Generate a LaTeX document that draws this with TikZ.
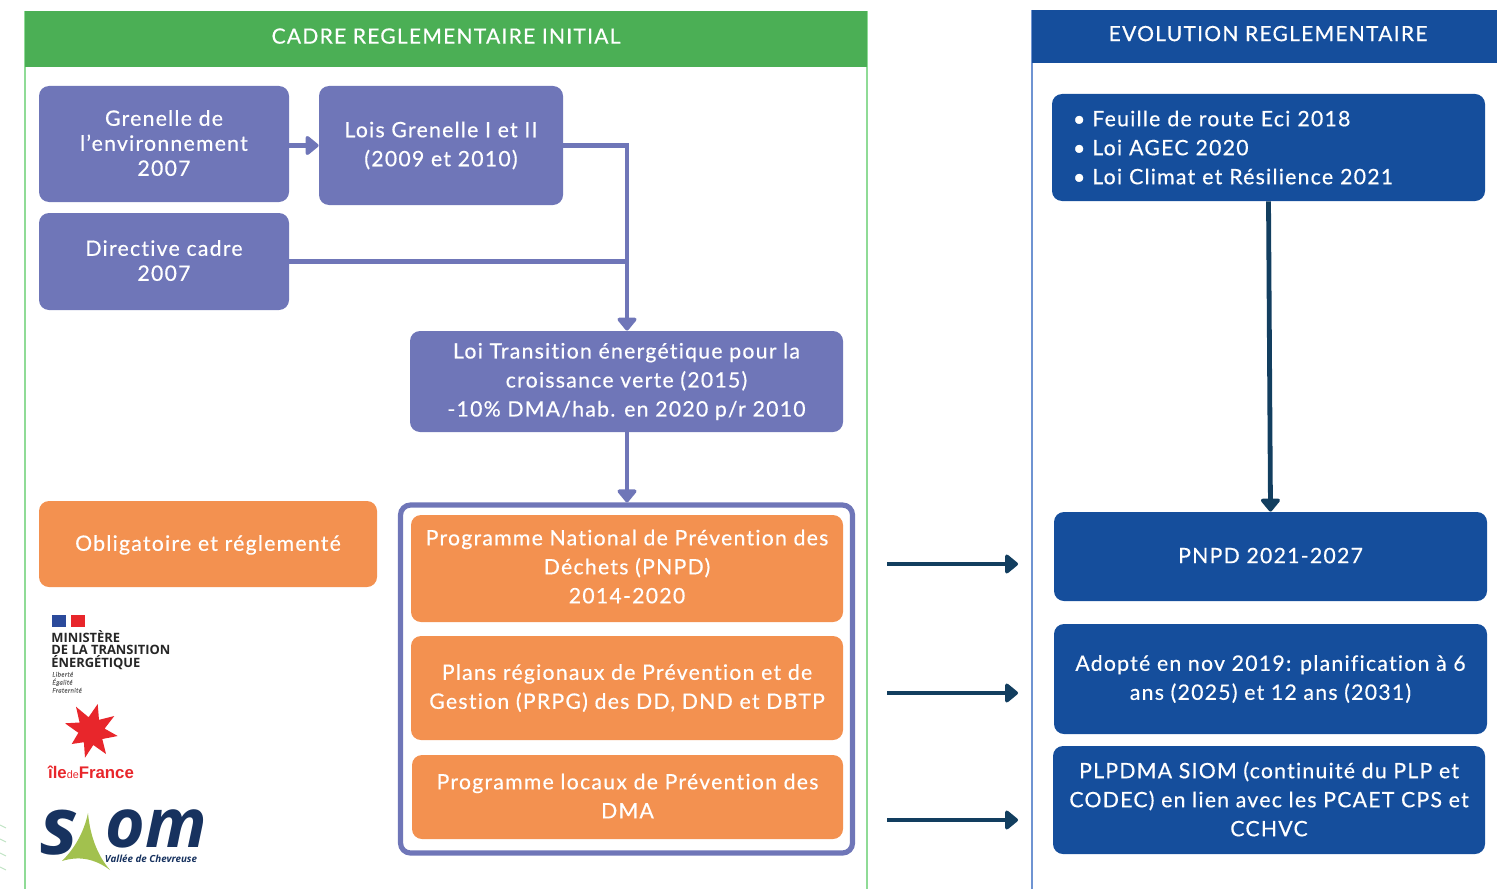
\documentclass[tikz,border=0pt]{standalone}
\usepackage{fontspec}
\setmainfont[LetterSpace=6, FakeBold=0.5, Ligatures=NoCommon]{Lato}
\newfontfamily\logofont{Open Sans}
\newfontfamily\arialfont{Liberation Sans}
\usetikzlibrary{arrows.meta}
\definecolor{greenhead}{HTML}{4BAF55}
\definecolor{greenline}{HTML}{8FDB96}
\definecolor{bluehead}{HTML}{154E9C}
\definecolor{blueline}{HTML}{6F94D2}
\definecolor{purplebox}{HTML}{6F76B8}
\definecolor{orangebox}{HTML}{F39150}
\definecolor{navyarrow}{HTML}{123E5F}
\definecolor{siomnavy}{HTML}{17325F}
\definecolor{siomgreen}{HTML}{A2C14E}
\definecolor{idfred}{HTML}{E8262B}
\definecolor{flagblue}{HTML}{2B4A9B}
\tikzstyle{basebox} = [rectangle, rounded corners=5pt, text=white, align=center, inner sep=0pt,
    font=\fontsize{10.6}{14.5}\selectfont]
\tikzstyle{violetbox} = [basebox, fill=purplebox]
\tikzstyle{peachbox} = [basebox, fill=orangebox]
\tikzstyle{royalbox} = [basebox, fill=bluehead]
\tikzstyle{headtitle} = [rectangle, text=white, inner sep=0pt, text depth=3pt, font=\fontsize{10.5}{12}\selectfont]
\tikzstyle{violetline} = [draw=purplebox, line width=2.2pt]
\tikzstyle{violetarrow} = [violetline, -{Triangle[round, length=7pt, width=11pt]}]
\tikzstyle{navyline} = [draw=navyarrow, line width=2.4pt, -{Triangle[round, length=7pt, width=11pt]}]

\begin{document}
\begin{tikzpicture}[x=0.5pt, y=-0.5pt]
    \useasboundingbox (0,0) rectangle (1497,888);

    \draw [greenline, line width=1pt] (25,11) -- (25,900) (867,11) -- (867,900);
    \draw [blueline, line width=1pt] (1032,10) -- (1032,900);
    \node [headtitle, fill=greenhead, minimum width=421pt, minimum height=28pt] (cadre) at (446,39)
        {CADRE REGLEMENTAIRE INITIAL};
    \node [headtitle, fill=bluehead, minimum width=236pt, minimum height=26.5pt] (evolution) at (1268,36.5)
        {EVOLUTION REGLEMENTAIRE};

    \node [violetbox, minimum width=125pt, minimum height=58pt, text depth=1pt, font=\fontsize{10.6}{12.5}\selectfont] (grenelle) at (164,144)
        {Grenelle de\\ l’environnement\\ 2007};
    \node [violetbox, minimum width=122pt, minimum height=59.5pt] (lois) at (441,145.5)
        {Lois Grenelle I et II\\ (2009 et 2010)};
    \node [violetbox, minimum width=125pt, minimum height=48.5pt, text depth=1pt, font=\fontsize{10.6}{12.5}\selectfont] (directive) at (164,261.5)
        {Directive cadre\\ 2007};
    \node [violetbox, minimum width=216.5pt, minimum height=50.5pt] (transition) at (626.5,381.5)
        {Loi Transition énergétique pour la\\ croissance verte (2015)\\ -10\% DMA/hab. en 2020 p/r 2010};

    \node [peachbox, minimum width=169pt, minimum height=43pt, text depth=1pt] (obligatoire) at (208,544)
        {Obligatoire et réglementé};
    \node [draw=purplebox, line width=2.6pt, rectangle, rounded corners=5pt, minimum width=226pt, minimum height=174pt, inner sep=0pt] (cadrebox) at (626.5,679) {};
    \node [peachbox, minimum width=216pt, minimum height=53.5pt, text depth=2pt] (pnp) at (627,568.5)
        {Programme National de Prévention des\\ Déchets (PNPD)\\ 2014-2020};
    \node [peachbox, minimum width=216pt, minimum height=52pt, text depth=1.5pt] (plans) at (627,688)
        {Plans régionaux de Prévention et de\\ Gestion (PRPG) des DD, DND et DBTP};
    \node [peachbox, minimum width=215.5pt, minimum height=42pt, text depth=1pt] (locaux) at (627.5,797)
        {Programme locaux de Prévention des\\ DMA};

    \node [royalbox, minimum width=216.5pt, minimum height=53.5pt, text width=195.5pt, align=left] (feuille) at (1268.5,147.5)
        {\textbullet\hspace{3.5pt}Feuille de route Eci 2018\\ \textbullet\hspace{3.5pt}Loi AGEC 2020\\ \textbullet\hspace{3.5pt}Loi Climat et Résilience 2021};
    \node [royalbox, minimum width=216.5pt, minimum height=44.5pt, text depth=1pt] (pnpd) at (1270.5,556.5)
        {PNPD 2021-2027};
    \node [royalbox, minimum width=216.5pt, minimum height=55pt, text depth=1.5pt] (adopte) at (1270.5,679)
        {Adopté en nov 2019: planification à 6\\ ans (2025) et 12 ans (2031)};
    \node [royalbox, minimum width=216pt, minimum height=54pt, text depth=1pt] (plpdma) at (1269,800)
        {PLPDMA SIOM (continuité du PLP et\\ CODEC) en lien avec les PCAET CPS et\\ CCHVC};

    \coordinate (junction) at (627,261.5);
    \draw [violetarrow] (grenelle.east |- lois.west) -- (lois.west);
    \draw [violetline] (lois.east) -| (junction);
    \draw [violetline] (directive.east) -- (junction);
    \draw [violetarrow] (junction) -- (junction |- transition.north);
    \draw [violetarrow] (junction |- transition.south) -- (junction |- cadrebox.north);
    \draw [navyline] (feuille.south) -- (pnpd.north);

    \coordinate (arrowa) at (887,564);
    \coordinate (arrowb) at (887,693);
    \coordinate (arrowc) at (887,820);
    \coordinate (targeta) at (1018,564);
    \coordinate (targetb) at (1018,693);
    \coordinate (targetc) at (1018,820);
    \draw [navyline] (arrowa) -- (targeta);
    \draw [navyline] (arrowb) -- (targetb);
    \draw [navyline] (arrowc) -- (targetc);

    \fill [flagblue] (52,615) rectangle (66,627);
    \fill [idfred] (71,615) rectangle (85,627);
    \node [anchor=north west, inner sep=0pt, align=left, text=black!85, font=\logofont\bfseries\fontsize{6.45}{6.25}\selectfont] (ministere) at (51,630)
        {MINISTÈRE\\ DE LA TRANSITION\\ ÉNERGÉTIQUE};
    \node [anchor=north west, inner sep=0pt, align=left, text=black!60, font=\rmfamily\itshape\fontsize{3.2}{4}\selectfont] (devise) at (52,671.5)
        {Liberté\\ Égalité\\ Fraternité};

    \fill [idfred] (97.7,704) -- (99,719.8) -- (114.3,716) -- (104.6,728.6) -- (117.7,736) -- (102.3,739) -- (106,754)
        -- (93.3,745) -- (85,757.7) -- (83.9,742.2) -- (71.7,744) -- (78.4,732.8) -- (65,723.3) -- (79.6,722.5) -- (76,706.7) -- (88.6,717.2) -- cycle;
    \node [inner sep=0pt, text=idfred, font=\arialfont\bfseries\fontsize{8.4}{9}\selectfont] (idf) at (91,772)
        {île{\fontsize{5.4}{9}\selectfont\mdseries de}France};

    \node [inner sep=0pt, text=siomnavy, font=\logofont\bfseries\itshape\fontsize{40}{40}\selectfont] (siomleft) at (59,833) {s};
    \node [inner sep=0pt, text=siomnavy, font=\logofont\bfseries\itshape\fontsize{34}{34}\selectfont] (siomright) at (156,829) {om};
    \fill [siomgreen] (88,813) .. controls (90,835) and (97,855) .. (110,870) .. controls (94,858) and (78,856) .. (62,861) .. controls (75,848) and (84,832) .. (88,813) -- cycle;
    \node [inner sep=0pt, text=siomnavy, font=\logofont\bfseries\itshape\fontsize{4.9}{5}\selectfont] (vallee) at (151,859) {Vallée de Chevreuse};

    \draw [greenhead!35, line width=0.5pt] (0,825) -- (6,828) (0,839) -- (6,842) (0,853) -- (6,856) (0,867) -- (6,870);
\end{tikzpicture}
\end{document}
